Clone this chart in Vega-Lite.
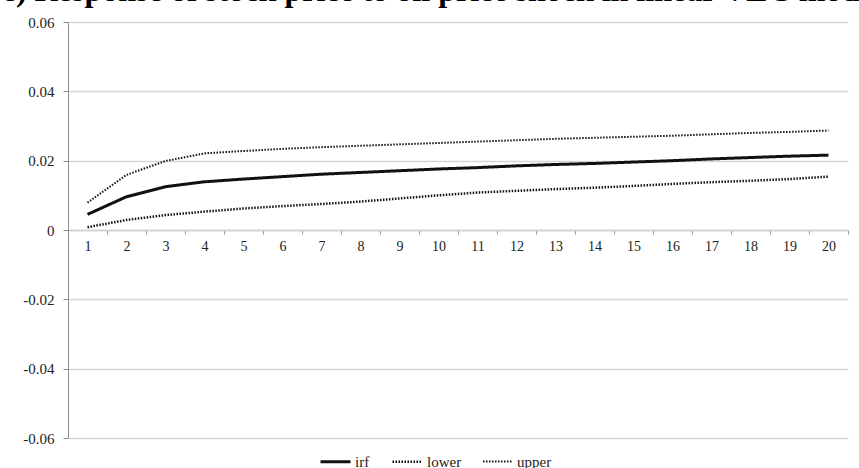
{
  "$schema": "https://vega.github.io/schema/vega-lite/v6.json",
  "width": 780,
  "height": 416,
  "autosize": {"type": "none"},
  "padding": {"left": 68, "top": 22, "right": 11, "bottom": 30},
  "background": "white",
  "title": {
    "text": "c) Response of stock price to oil price shock in linear VEC model",
    "anchor": "start",
    "font": "Liberation Serif",
    "fontSize": 32,
    "fontWeight": "bold",
    "color": "#000",
    "baseline": "alphabetic",
    "dx": -21,
    "dy": 18,
    "offset": 0
  },
  "config": {
    "view": {"stroke": null},
    "line": {"color": "#111", "strokeCap": "butt"}
  },
  "data": {
    "values": [
      {"period": 1, "series": "irf", "value": 0.0045},
      {"period": 2, "series": "irf", "value": 0.0096},
      {"period": 3, "series": "irf", "value": 0.0125},
      {"period": 4, "series": "irf", "value": 0.0139},
      {"period": 5, "series": "irf", "value": 0.0147},
      {"period": 6, "series": "irf", "value": 0.0154},
      {"period": 7, "series": "irf", "value": 0.0161},
      {"period": 8, "series": "irf", "value": 0.0166},
      {"period": 9, "series": "irf", "value": 0.0171},
      {"period": 10, "series": "irf", "value": 0.0176},
      {"period": 11, "series": "irf", "value": 0.0180},
      {"period": 12, "series": "irf", "value": 0.0185},
      {"period": 13, "series": "irf", "value": 0.0189},
      {"period": 14, "series": "irf", "value": 0.0192},
      {"period": 15, "series": "irf", "value": 0.0196},
      {"period": 16, "series": "irf", "value": 0.0200},
      {"period": 17, "series": "irf", "value": 0.0205},
      {"period": 18, "series": "irf", "value": 0.0209},
      {"period": 19, "series": "irf", "value": 0.0213},
      {"period": 20, "series": "irf", "value": 0.0216},
      {"period": 1, "series": "lower", "value": 0.0008},
      {"period": 2, "series": "lower", "value": 0.0029},
      {"period": 3, "series": "lower", "value": 0.0043},
      {"period": 4, "series": "lower", "value": 0.0053},
      {"period": 5, "series": "lower", "value": 0.0062},
      {"period": 6, "series": "lower", "value": 0.0069},
      {"period": 7, "series": "lower", "value": 0.0075},
      {"period": 8, "series": "lower", "value": 0.0082},
      {"period": 9, "series": "lower", "value": 0.0091},
      {"period": 10, "series": "lower", "value": 0.0100},
      {"period": 11, "series": "lower", "value": 0.0108},
      {"period": 12, "series": "lower", "value": 0.0113},
      {"period": 13, "series": "lower", "value": 0.0118},
      {"period": 14, "series": "lower", "value": 0.0122},
      {"period": 15, "series": "lower", "value": 0.0127},
      {"period": 16, "series": "lower", "value": 0.0133},
      {"period": 17, "series": "lower", "value": 0.0138},
      {"period": 18, "series": "lower", "value": 0.0142},
      {"period": 19, "series": "lower", "value": 0.0147},
      {"period": 20, "series": "lower", "value": 0.0154},
      {"period": 1, "series": "upper", "value": 0.0079},
      {"period": 2, "series": "upper", "value": 0.0159},
      {"period": 3, "series": "upper", "value": 0.0199},
      {"period": 4, "series": "upper", "value": 0.0221},
      {"period": 5, "series": "upper", "value": 0.0228},
      {"period": 6, "series": "upper", "value": 0.0234},
      {"period": 7, "series": "upper", "value": 0.0239},
      {"period": 8, "series": "upper", "value": 0.0243},
      {"period": 9, "series": "upper", "value": 0.0247},
      {"period": 10, "series": "upper", "value": 0.0251},
      {"period": 11, "series": "upper", "value": 0.0255},
      {"period": 12, "series": "upper", "value": 0.0259},
      {"period": 13, "series": "upper", "value": 0.0263},
      {"period": 14, "series": "upper", "value": 0.0266},
      {"period": 15, "series": "upper", "value": 0.0269},
      {"period": 16, "series": "upper", "value": 0.0272},
      {"period": 17, "series": "upper", "value": 0.0276},
      {"period": 18, "series": "upper", "value": 0.0280},
      {"period": 19, "series": "upper", "value": 0.0283},
      {"period": 20, "series": "upper", "value": 0.0287}
    ]
  },
  "mark": {"type": "line"},
  "encoding": {
    "x": {
      "field": "period",
      "type": "ordinal",
      "scale": {"paddingInner": 0, "paddingOuter": 0},
      "axis": {
        "title": null,
        "orient": "bottom",
        "offset": -208,
        "labelAngle": 0,
        "tickBand": "extent",
        "grid": false,
        "domainColor": "#cfcfcf",
        "domainWidth": 1.5,
        "tickColor": "#9a9a9a",
        "tickSize": 4,
        "labelFont": "Liberation Serif",
        "labelFontSize": 14,
        "labelColor": "#222",
        "labelPadding": 5
      }
    },
    "y": {
      "field": "value",
      "type": "quantitative",
      "scale": {"domain": [-0.06, 0.06], "nice": false, "zero": false},
      "axis": {
        "title": null,
        "values": [-0.06, -0.04, -0.02, 0, 0.02, 0.04, 0.06],
        "format": ".2~f",
        "labelExpr": "replace(datum.label, '\u2212', '-')",
        "grid": true,
        "gridColor": "#d6d6d6",
        "gridWidth": 1.5,
        "domainColor": "#8c8c8c",
        "tickColor": "#8c8c8c",
        "tickSize": 5,
        "labelFont": "Liberation Serif",
        "labelFontSize": 15,
        "labelColor": "#222",
        "labelPadding": 9
      }
    },
    "strokeDash": {
      "field": "series",
      "type": "nominal",
      "scale": {"domain": ["irf", "lower", "upper"], "range": [[1, 0], [1.5, 1.5], [1.5, 1.5]]},
      "legend": {
        "title": null,
        "orient": "none",
        "direction": "horizontal",
        "legendX": 251,
        "legendY": 423,
        "symbolType": "stroke",
        "symbolSize": 900,
        "symbolStrokeColor": "#111",
        "labelFont": "Liberation Serif",
        "labelFontSize": 15,
        "labelColor": "#222",
        "labelOffset": 3,
        "columnPadding": 17
      }
    },
    "strokeWidth": {
      "field": "series",
      "type": "nominal",
      "scale": {"domain": ["irf", "lower", "upper"], "range": [3, 2, 2]},
      "legend": {
        "title": null,
        "orient": "none",
        "direction": "horizontal",
        "legendX": 251,
        "legendY": 423
      }
    }
  }
}
